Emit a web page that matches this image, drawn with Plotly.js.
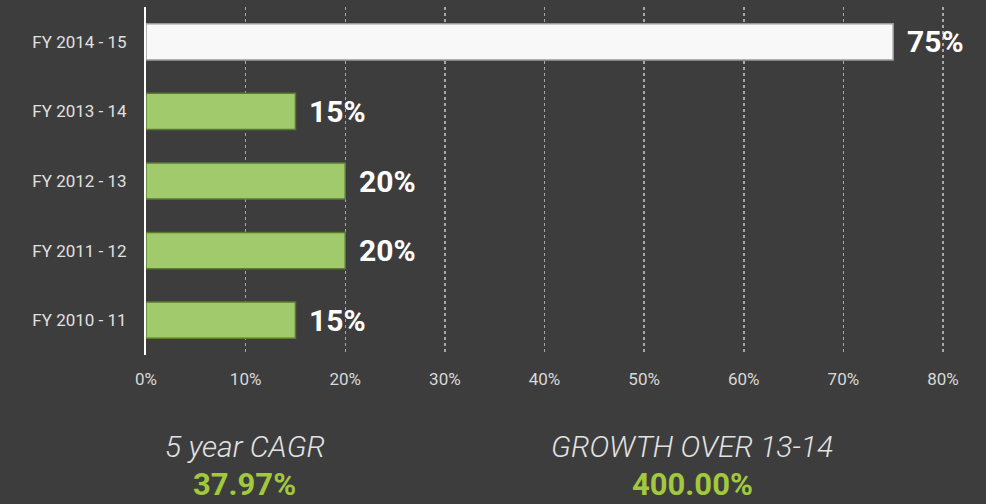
<!DOCTYPE html>
<html>
<head>
<meta charset="utf-8">
<script src="https://cdn.plot.ly/plotly-3.0.1.min.js"></script>
<style>
  html, body { margin: 0; padding: 0; background: #3d3d3d; }
  #chart { width: 986px; height: 504px; }
</style>
</head>
<body>
<div id="chart"></div>
<script>
// Data
const categories = ["FY 2010 - 11", "FY 2011 - 12", "FY 2012 - 13", "FY 2013 - 14", "FY 2014 - 15"];
const values = [15, 20, 20, 15, 75];
const barColors = ["#a0ca6c", "#a0ca6c", "#a0ca6c", "#a0ca6c", "#f8f8f8"];
const barLines = ["#5a7a30", "#5a7a30", "#5a7a30", "#5a7a30", "#9a9a9a"];
const xTickVals = [0, 10, 20, 30, 40, 50, 60, 70, 80];
const xTickText = ["0%", "10%", "20%", "30%", "40%", "50%", "60%", "70%", "80%"];
const summaryLabels = ["5 year CAGR", "GROWTH OVER 13-14"];
const summaryValues = ["37.97%", "400.00%"];
const summaryX = [0.1234, 0.681];

const trace = {
  type: "bar",
  orientation: "h",
  x: values,
  y: categories,
  width: 0.52,
  marker: { color: barColors, line: { color: barLines, width: 1.5 } },
  hoverinfo: "skip"
};

const annotations = [];
values.forEach((v, i) => {
  annotations.push({
    x: v, y: categories[i], xref: "x", yref: "y",
    text: v + "%", showarrow: false, xanchor: "left", yanchor: "middle",
    xshift: 12,
    font: { family: "Roboto", size: 30, color: "#ffffff", weight: 700 }
  });
});
summaryLabels.forEach((t, i) => {
  annotations.push({
    x: summaryX[i], y: -0.262, xref: "paper", yref: "paper",
    text: t, showarrow: false, xanchor: "center", yanchor: "middle",
    borderpad: 0,
    font: { family: "Roboto", size: 30, color: "#e2e2e2", style: "italic", weight: 300 }
  });
  annotations.push({
    x: summaryX[i], y: -0.372, xref: "paper", yref: "paper",
    text: summaryValues[i], showarrow: false, xanchor: "center", yanchor: "middle",
    borderpad: 0,
    font: { family: "Roboto", size: 31, color: "#a2c83e", weight: 700 }
  });
});

const layout = {
  width: 986, height: 504,
  paper_bgcolor: "#3d3d3d",
  plot_bgcolor: "#3d3d3d",
  margin: { l: 146, r: 38, t: 7, b: 149 },
  showlegend: false,
  xaxis: {
    range: [0, 80.5],
    tickvals: xTickVals,
    ticktext: xTickText,
    showgrid: true,
    gridcolor: "#a8a8a8",
    griddash: "dot",
    gridwidth: 1.5,
    zeroline: false,
    showline: false,
    ticks: "",
    ticklabelstandoff: 12,
    tickfont: { family: "Roboto", size: 17, color: "#d8d8d8" },
    fixedrange: true
  },
  yaxis: {
    type: "category",
    categoryorder: "array",
    categoryarray: categories,
    range: [-0.5, 4.5],
    showgrid: false,
    zeroline: false,
    showline: true,
    linecolor: "#ffffff",
    linewidth: 2,
    ticks: "",
    ticklabelstandoff: 14,
    tickfont: { family: "Roboto", size: 17, color: "#e0e0e0" },
    fixedrange: true
  },
  annotations: annotations
};

Plotly.newPlot("chart", [trace], layout, { displayModeBar: false, staticPlot: true });
</script>
</body>
</html>
